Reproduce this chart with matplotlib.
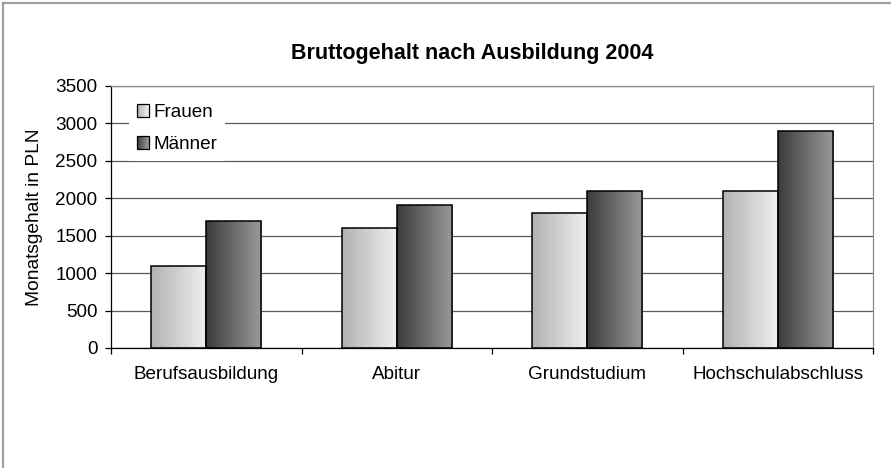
import numpy as np
import matplotlib
matplotlib.use("Agg")
import matplotlib.pyplot as plt
from matplotlib.patches import Rectangle
from matplotlib.lines import Line2D
from matplotlib.legend_handler import HandlerBase

plt.rcParams['font.family'] = ['Liberation Sans', 'DejaVu Sans']

# data
categories = ['Berufsausbildung', 'Abitur', 'Grundstudium', 'Hochschulabschluss']
frauen = [1100, 1600, 1800, 2100]
maenner = [1700, 1910, 2100, 2900]
series_names = ['Frauen', 'Männer']

# gradient colours (left -> right)
grad_frauen = ('#b2b2b2', '#f0f0f0')
grad_maenner = ('#3c3c3c', '#9a9a9a')

W, H = 891, 468
fig = plt.figure(figsize=(W / 100, H / 100), dpi=100)
ax = fig.add_axes([111 / W, 1 - 348 / H, (873 - 111) / W, (348 - 86) / H])

x = np.arange(len(categories))
bw = 0.29


def make_cmap(c):
    return matplotlib.colors.LinearSegmentedColormap.from_list('g', list(c))


grad = np.linspace(0, 1, 64).reshape(1, -1)


def gradient_bars(xs, vals, colors):
    bars = ax.bar(xs, vals, width=bw, facecolor='none', edgecolor='black',
                  linewidth=1.1, zorder=3)
    cmap = make_cmap(colors)
    for b in bars:
        x0, y0 = b.get_x(), b.get_y()
        im = ax.imshow(grad, cmap=cmap, aspect='auto', zorder=2.5,
                       extent=(x0, x0 + b.get_width(), y0, y0 + b.get_height()),
                       interpolation='bilinear')
        im.set_clip_path(b)
    return bars


gradient_bars(x - bw / 2, frauen, grad_frauen)
gradient_bars(x + bw / 2, maenner, grad_maenner)
ax.set_xlim(-0.5, len(categories) - 0.5)
ax.set_ylim(0, 3500)

# grid and spines
ax.set_yticks(np.arange(0, 3501, 500))
ax.yaxis.grid(True, color='#5a5a5a', linewidth=0.9, zorder=1)
ax.set_axisbelow(True)
for s in ['top', 'right']:
    ax.spines[s].set_color('#8a8a8a')
    ax.spines[s].set_linewidth(0.9)
for s in ['left', 'bottom']:
    ax.spines[s].set_color('black')
    ax.spines[s].set_linewidth(0.9)

ax.set_xticks(x)
ax.set_xticklabels(categories)
ax.set_xticks(np.arange(-0.5, len(categories)), minor=True)
ax.tick_params(axis='x', which='major', length=0, pad=13, labelsize=13.6)
ax.tick_params(axis='x', which='minor', length=4, width=0.9, direction='out')
ax.tick_params(axis='y', length=4.3, width=0.9, direction='out', pad=5.5,
               labelsize=13.6)
ax.set_ylabel('Monatsgehalt in PLN', fontsize=13.8, labelpad=9)

fig.text(472 / W, 1 - 53 / H, 'Bruttogehalt nach Ausbildung 2004',
         fontsize=15.5, fontweight='bold', ha='center', va='center')


# legend with gradient swatches
class GradientHandler(HandlerBase):
    def __init__(self, colors):
        super().__init__()
        self.colors = colors

    def create_artists(self, legend, orig_handle, xdescent, ydescent,
                       width, height, fontsize, trans):
        cmap = make_cmap(self.colors)
        n = 12
        arts = []
        for i in range(n):
            r = Rectangle((-xdescent + width * i / n, -ydescent), width / n + 0.3,
                          height, facecolor=cmap(i / (n - 1)), edgecolor='none',
                          transform=trans)
            arts.append(r)
        arts.append(Rectangle((-xdescent, -ydescent), width, height,
                              facecolor='none', edgecolor='black', linewidth=0.9,
                              transform=trans))
        return arts


h1 = Rectangle((0, 0), 1, 1)
h2 = Rectangle((0, 0), 1, 1)
leg = ax.legend([h1, h2], series_names,
                handler_map={h1: GradientHandler(grad_frauen),
                             h2: GradientHandler(grad_maenner)},
                loc='upper left', bbox_to_anchor=(129 / W, 1 - 96 / H),
                bbox_transform=fig.transFigure, borderaxespad=0,
                fontsize=13.6, frameon=True, fancybox=False, framealpha=1,
                edgecolor='none', facecolor='white', handlelength=0.68,
                handleheight=0.68, handletextpad=0.2, labelspacing=0.81,
                borderpad=0.4)
leg.set_zorder(5)

# outer chart border (left and top)
fig.add_artist(Line2D([3 / W, 3 / W], [0, 1 - 3 / H], transform=fig.transFigure,
                      color='#a0a0a0', linewidth=1.6))
fig.add_artist(Line2D([3 / W, 1], [1 - 3 / H, 1 - 3 / H], transform=fig.transFigure,
                      color='#a0a0a0', linewidth=1.6))

fig.savefig('out.png', dpi=100)
